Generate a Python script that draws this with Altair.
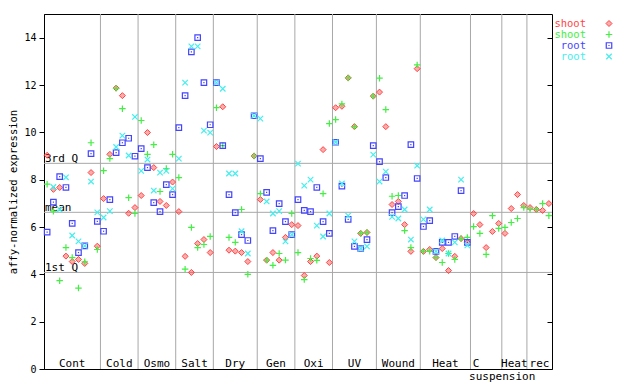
import altair as alt
import numpy as np
import pandas as pd

# ---------------- data ----------------
groups = ["Cont", "Cold", "Osmo", "Salt", "Dry", "Gen", "Oxi", "UV", "Wound", "Heat", "C", "Heat", "rec"]
group_sub = ["", "", "", "", "", "", "", "", "", "", "suspension", "", ""]
counts = [9, 6, 6, 6, 7, 6, 6, 7, 7, 8, 5, 4, 4]

shoot_red = [
    9.03, 7.59, 7.67, 4.77, 4.54, 4.63, 4.46, 8.30, 5.19,          # Cont
    7.20, 9.07, 11.87, 11.55, 6.58, 6.82,                          # Cold
    7.33, 9.99, 8.51, 7.08, 6.91, 7.90,                            # Osmo
    6.65, 4.76, 4.08, 5.30, 5.47, 4.92,                            # Salt
    9.40, 11.08, 5.02, 4.98, 4.92, 4.54, 9.00,                     # Dry
    7.16, 4.60, 4.92, 4.60, 5.56, 6.10,                            # Gen
    6.06, 3.95, 4.54, 4.77, 9.27, 4.50,                            # Oxi
    11.04, 11.10, 12.30, 10.24, 5.73, 5.77, 11.53,                 # UV
    11.70, 10.24, 6.95, 7.08, 6.10, 4.97, 12.69,                   # Wound
    4.97, 5.05, 4.71, 5.09, 4.16, 4.76, 5.51, 5.35,                # Heat
    6.57, 6.10, 5.13, 5.81, 6.15,                                  # C suspension
    5.73, 6.78, 7.37, 6.91,                                        # Heat
    6.82, 6.74, 6.70, 6.99,                                        # rec
]
shoot_green = [
    7.81, 6.67, 3.73, 5.13, 4.71, 3.42, 4.53, 9.56, 5.05,
    8.38, 8.89, 11.86, 11.00, 7.24, 6.57,
    10.50, 9.07, 9.48, 7.50, 8.47, 9.07,
    8.09, 4.22, 5.98, 5.13, 5.26, 5.60,
    11.04, 9.44, 5.56, 5.35, 6.74, 4.00, 9.00,
    7.41, 4.60, 4.38, 4.88, 4.60, 6.57,
    4.92, 3.78, 4.67, 4.59, 7.41, 10.37,
    10.54, 11.20, 12.30, 10.24, 5.73, 5.77, 11.53,
    12.29, 10.96, 7.30, 7.33, 5.85, 5.13, 12.85,
    4.97, 4.97, 4.71, 4.50, 4.88, 4.63, 5.51, 5.56,
    6.02, 5.73, 4.84, 6.48, 5.94,
    5.98, 6.19, 6.36, 6.82,
    6.74, 6.74, 6.99, 6.48,
]
root_blue = [
    5.78, 7.05, 8.13, 7.67, 6.15, 4.92, 5.20, 9.10, 6.24,
    5.82, 7.16, 9.14, 9.56, 9.75, 8.99,
    9.31, 8.51, 7.03, 6.65, 7.79, 7.37,
    10.20, 11.55, 13.40, 14.00, 12.10, 10.32,
    12.10, 9.44, 7.37, 6.61, 5.68, 5.43, 10.70,
    8.89, 7.46, 5.85, 6.99, 6.23, 5.68,
    7.16, 6.70, 6.65, 7.67, 6.23, 5.73,
    9.58, 7.73, 6.32, 5.18, 5.09, 5.47, 9.44,
    8.76, 8.09, 6.61, 6.86, 7.33, 9.48, 8.05,
    6.02, 6.27, 4.97, 5.35, 5.35, 5.60, 7.54, 5.35,
    None, None, None, None, None,
    None, None, None, None,
    None, None, None, None,
]
root_cyan = [
    None, 7.69, 6.74, 8.10, 5.64, 5.39, 5.20, 7.92, 6.62,
    6.40, 6.67, 9.38, 9.86, 9.02, 10.65,
    8.37, 8.85, 7.54, 8.30, 8.37, 7.62,
    8.89, 12.10, 13.63, 13.63, 10.07, 9.99,
    12.10, 11.84, 8.26, 8.26, 5.82, 4.88, 10.70,
    10.58, 7.08, 6.57, 6.67, 5.39, 5.68,
    8.68, 7.75, 8.00, 6.06, 5.60, 6.57,
    9.58, 7.84, 6.48, 5.39, 5.09, 5.18, 9.06,
    7.92, 8.34, 6.43, 6.36, 6.74, 5.47, 8.59,
    6.32, 6.74, 4.97, 5.43, 4.88, 5.35, 8.00, 5.22,
    None, None, None, None, None,
    None, None, None, None,
    None, None, None, None,
]

q_names = ["1st Q", "mean", "3rd Q"]
q_values = [4.08, 6.62, 8.69]

legend_labels = ["shoot", "shoot", "root", "root"]
series_keys = ["shoot_red", "shoot_green", "root_blue", "root_cyan"]
series_colors = ["#ff4444", "#44ee44", "#4444ff", "#44eeee"]

# ---------------- tables ----------------
N = int(sum(counts))
idx = np.arange(N) + 0.5
series_vals = [shoot_red, shoot_green, root_blue, root_cyan]
frames = []
for key, vals in zip(series_keys, series_vals):
    frames.append(pd.DataFrame({"idx": idx, "value": vals, "series": key}))
df = pd.concat(frames, ignore_index=True)
df = df.dropna()

ends = np.cumsum(counts)
bounds_df = pd.DataFrame({"b": ends[:-1]})
centers = ends - np.array(counts) / 2.0
labels_df = pd.DataFrame({"c": centers, "name": groups, "sub": group_sub, "end": ends})
q_df = pd.DataFrame({"q": q_values, "name": q_names})

W, H = 508, 355
MONO = "DejaVu Sans Mono"
GRAY = "#a8a8a8"

xs = alt.Scale(domain=[0, N], nice=False, zero=False)
ys = alt.Scale(domain=[0, 15], nice=False, zero=True)
tick_vals = [0, 2, 4, 6, 8, 10, 12, 14]

X = lambda f: alt.X(f, scale=xs, axis=None)
Ynone = lambda f: alt.Y(f, scale=ys, axis=None)

# group dividers
dividers = alt.Chart(bounds_df).mark_rule(color=GRAY, strokeWidth=1).encode(x=X("b:Q"))

# quartile lines (carry the inward right-hand ticks)
qlines = alt.Chart(q_df).mark_rule(color=GRAY, strokeWidth=1).encode(
    y=alt.Y("q:Q", scale=ys,
            axis=alt.Axis(orient="right", offset=-5, tickSize=5, values=tick_vals,
                          labels=False, domain=False, grid=False, title=None,
                          tickColor="black"))
)
qtext = alt.Chart(q_df).mark_text(align="left", baseline="alphabetic", dy=-1,
                                  font=MONO, fontSize=11, color="black").encode(
    x=alt.value(1), y=Ynone("q:Q"), text="name:N")

glabels = alt.Chart(labels_df).transform_filter("datum.name != 'C'").mark_text(
    align="center", baseline="alphabetic", font=MONO, fontSize=11, color="black"
).encode(x=X("c:Q"), y=alt.value(H - 2), text="name:N")
clabel = alt.Chart(labels_df).transform_filter("datum.name == 'C'").mark_text(
    align="center", baseline="alphabetic", font=MONO, fontSize=11, color="black", dx=-10
).encode(x=X("c:Q"), y=alt.value(H - 2), text="name:N")
sublabel = alt.Chart(labels_df).transform_filter("datum.sub != ''").mark_text(
    align="center", baseline="alphabetic", font=MONO, fontSize=11, color="black", dx=16
).encode(x=X("c:Q"), y=alt.value(H + 11), text="sub:N")

base = alt.Chart(df)

def sel(key):
    return base.transform_filter(alt.datum.series == key)

PLUS = "M-1,0L1,0M0,-1L0,1"
CROSS = "M-1,-1L1,1M-1,1L1,-1"

red_pts = sel("shoot_red").mark_point(
    shape="diamond", filled=True, fill=series_colors[0], fillOpacity=0.45,
    stroke=series_colors[0], strokeWidth=1, size=36, opacity=1
).encode(
    x=X("idx:Q"),
    y=alt.Y("value:Q", scale=ys,
            axis=alt.Axis(values=tick_vals, tickSize=5, labelPadding=3, grid=False,
                          domainColor="black", tickColor="black", labelColor="black",
                          labelFont=MONO, labelFontSize=10,
                          title="affy-normalized expression", titleFont=MONO,
                          titleFontSize=10.5, titleFontWeight="normal", titleColor="black",
                          titlePadding=5)),
)
green_pts = sel("shoot_green").mark_point(
    shape=PLUS, filled=False, stroke=series_colors[1], strokeWidth=1.2, size=42, opacity=1
).encode(x=X("idx:Q"), y=Ynone("value:Q"))
blue_pts = sel("root_blue").mark_point(
    shape="square", filled=False, stroke=series_colors[2], strokeWidth=1.2, size=30, opacity=1
).encode(x=X("idx:Q"), y=Ynone("value:Q"))
blue_dot = sel("root_blue").mark_point(
    shape="square", filled=True, fill=series_colors[2], size=1.5, opacity=1
).encode(x=X("idx:Q"), y=Ynone("value:Q"))
cyan_pts = sel("root_cyan").mark_point(
    shape=CROSS, filled=False, stroke=series_colors[3], strokeWidth=1.2, size=30, opacity=1
).encode(x=X("idx:Q"), y=Ynone("value:Q"))

# legend (outside plot, at right)
leg_layers = []
leg_shapes = [("diamond", True), (PLUS, False), ("square", False), (CROSS, False)]
one = pd.DataFrame({"k": [0]})
for i, (lab, col, (shp, fil)) in enumerate(zip(legend_labels, series_colors, leg_shapes)):
    leg_layers.append(
        alt.Chart(one).mark_text(align="right", baseline="alphabetic", font=MONO,
                                 fontSize=10.5, color=col).encode(
            x=alt.value(542), y=alt.value(13 + 11 * i), text=alt.value(lab))
    )
    if fil:
        m = alt.Chart(one).mark_point(shape=shp, filled=True, fill=col, fillOpacity=0.45,
                                      stroke=col, strokeWidth=1, size=36, opacity=1)
    else:
        m = alt.Chart(one).mark_point(shape=shp, filled=False, stroke=col,
                                      strokeWidth=1.2, size=30 if shp != PLUS else 42, opacity=1)
    leg_layers.append(m.encode(x=alt.value(565), y=alt.value(9.5 + 11 * i)))
    if shp == "square":
        leg_layers.append(alt.Chart(one).mark_point(shape="square", filled=True, fill=col,
                                                    size=1.5, opacity=1).encode(
            x=alt.value(565), y=alt.value(9.5 + 11 * i)))

chart = alt.layer(
    dividers, qlines, qtext, glabels, clabel, sublabel,
    red_pts, green_pts, blue_pts, blue_dot, cyan_pts,
    *leg_layers
).resolve_axis(y="independent").properties(
    width=W, height=H,
    padding={"left": 36, "top": 6, "right": 80, "bottom": 16},
    autosize=alt.AutoSizeParams(type="none"),
    background="white",
).configure_view(stroke="black", strokeWidth=1)

chart.save("out.html", embed_options={"renderer": "svg", "actions": False})
